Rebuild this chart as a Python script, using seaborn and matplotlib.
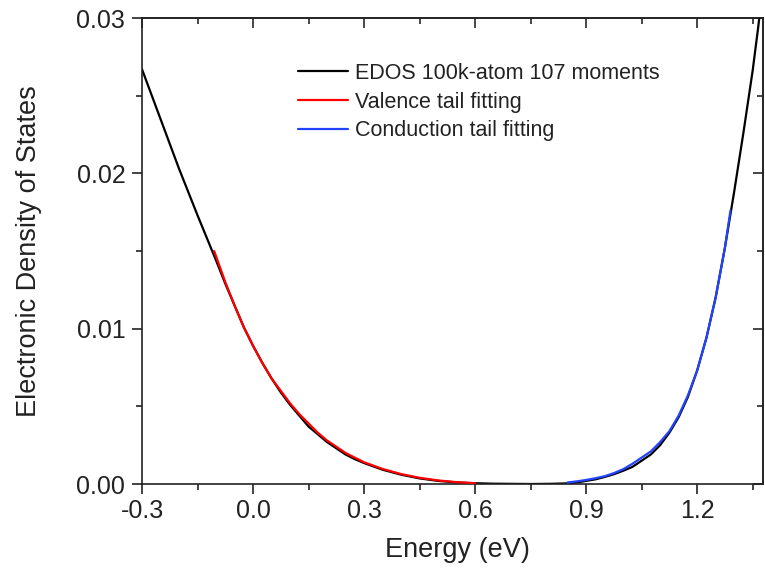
import matplotlib
matplotlib.use("Agg")
import matplotlib.pyplot as plt
import seaborn as sns
import pandas as pd
from matplotlib.ticker import MultipleLocator, FormatStrFormatter

# ---- data ----
edos_energy = [-0.30, -0.25, -0.20, -0.15, -0.10, -0.075, -0.05, -0.025, 0.00, 0.025,
               0.05, 0.075, 0.10, 0.125, 0.15, 0.175, 0.20, 0.225, 0.25, 0.275,
               0.30, 0.35, 0.40, 0.45, 0.50, 0.55, 0.60, 0.65, 0.70, 0.75,
               0.80, 0.85, 0.875, 0.90, 0.925, 0.95, 0.975, 1.00, 1.025, 1.05,
               1.075, 1.10, 1.125, 1.15, 1.175, 1.20, 1.225, 1.25, 1.275, 1.30,
               1.325, 1.35, 1.365, 1.38]
edos_value = [0.0267, 0.0235, 0.0203, 0.0173, 0.0144, 0.0129, 0.0115, 0.0101, 0.0089, 0.0078,
              0.0068, 0.0059, 0.0051, 0.0044, 0.0037, 0.0032, 0.0027, 0.0023, 0.0019, 0.0016,
              0.00135, 0.00092, 0.0006, 0.00036, 0.0002, 0.0001, 0.00005, 0.00002, 0.00001, 0.0,
              0.00001, 0.00004, 0.0001, 0.0002, 0.0003, 0.00045, 0.00063, 0.00085, 0.0011, 0.0015,
              0.0019, 0.0025, 0.0033, 0.0043, 0.0056, 0.0073, 0.0094, 0.0120, 0.0152, 0.0188,
              0.0226, 0.0266, 0.0294, 0.0325]

valence_energy = [-0.105, -0.075, -0.05, -0.025, 0.00, 0.025, 0.05, 0.075, 0.10, 0.125,
                  0.15, 0.175, 0.20, 0.25, 0.30, 0.35, 0.40, 0.45, 0.50, 0.55, 0.60]
valence_value = [0.0150, 0.0130, 0.0115, 0.0101, 0.0089, 0.0078, 0.0068, 0.0060, 0.0052, 0.0045,
                 0.0039, 0.0033, 0.0028, 0.0020, 0.0014, 0.00097, 0.00064, 0.0004, 0.00023, 0.00012,
                 0.00005]

conduction_energy = [0.85, 0.875, 0.90, 0.925, 0.95, 0.975, 1.00, 1.025, 1.05, 1.075,
                     1.10, 1.125, 1.15, 1.175, 1.20, 1.225, 1.25, 1.275, 1.29]
conduction_value = [0.0001, 0.00017, 0.00026, 0.00037, 0.0005, 0.0007, 0.00095, 0.0013, 0.0017, 0.0021,
                    0.0027, 0.0034, 0.0044, 0.0057, 0.0073, 0.0094, 0.0120, 0.0152, 0.0176]

labels = ["EDOS 100k-atom 107 moments", "Valence tail fitting", "Conduction tail fitting"]
colors = ["black", "#ff0000", "#2244ff"]

x_ticks = [-0.3, 0.0, 0.3, 0.6, 0.9, 1.2]
y_ticks = [0.00, 0.01, 0.02, 0.03]

# ---- style ----
sns.set_style("ticks")
plt.rcParams["font.family"] = ["Liberation Sans", "DejaVu Sans"]

fig = plt.figure(figsize=(7.65, 5.79), dpi=100)
W, H = 765, 579
L, R, B, T = 142, 763, 484, 18
ax = fig.add_axes([L / W, 1 - B / H, (R - L) / W, (B - T) / H])

df_edos = pd.DataFrame({"Energy": edos_energy, "DOS": edos_value})
df_val = pd.DataFrame({"Energy": valence_energy, "DOS": valence_value})
df_con = pd.DataFrame({"Energy": conduction_energy, "DOS": conduction_value})

sns.lineplot(data=df_edos, x="Energy", y="DOS", ax=ax, color=colors[0], lw=1.6,
             label=labels[0], sort=False, zorder=2)
sns.lineplot(data=df_val, x="Energy", y="DOS", ax=ax, color=colors[1], lw=1.6,
             label=labels[1], sort=False, zorder=3)
sns.lineplot(data=df_con, x="Energy", y="DOS", ax=ax, color=colors[2], lw=1.6,
             label=labels[2], sort=False, zorder=3)

ax.set_xlim(-0.3, 1.378)
ax.set_ylim(0.0, 0.03)
ax.set_xticks(x_ticks)
ax.set_yticks(y_ticks)
ax.xaxis.set_major_formatter(FormatStrFormatter("%.1f"))
ax.yaxis.set_major_formatter(FormatStrFormatter("%.2f"))
ax.xaxis.set_minor_locator(MultipleLocator(0.15))
ax.yaxis.set_minor_locator(MultipleLocator(0.005))

for s in ax.spines.values():
    s.set_linewidth(1.2)
    s.set_color("#222222")

ax.tick_params(axis="both", which="major", direction="out", length=7, width=1.2,
               labelsize=18, colors="#222222")
ax.tick_params(axis="x", which="major", pad=4)
ax.tick_params(axis="y", which="major", pad=5)
ax.tick_params(axis="both", which="minor", direction="out", length=4, width=1.2, colors="#222222")

# mirrored inward ticks on top and right
secx = ax.secondary_xaxis("top")
secx.set_xticks(x_ticks)
secx.xaxis.set_minor_locator(MultipleLocator(0.15))
secx.tick_params(which="major", direction="in", length=7, width=1.2, labeltop=False)
secx.tick_params(which="minor", direction="in", length=4, width=1.2)
secx.spines["top"].set_linewidth(1.2)
secy = ax.secondary_yaxis("right")
secy.set_yticks(y_ticks)
secy.yaxis.set_minor_locator(MultipleLocator(0.005))
secy.tick_params(which="major", direction="in", length=7, width=1.2, labelright=False)
secy.tick_params(which="minor", direction="in", length=4, width=1.2)
secy.spines["right"].set_linewidth(1.2)

ax.set_xlabel("Energy (eV)", fontsize=19.5, color="#222222")
ax.set_ylabel("Electronic Density of States", fontsize=19.5, color="#222222")
ax.xaxis.set_label_coords((457 - L) / (R - L), (B - 537) / (B - T))
ax.yaxis.set_label_coords((42 - L) / (R - L), 0.5)

leg = ax.legend(loc="upper left", bbox_to_anchor=((298 - L) / (R - L), (B - 63) / (B - T)),
                frameon=False, fontsize=15.5, handlelength=2.3, handletextpad=0.35,
                labelspacing=0.35, borderpad=0, borderaxespad=0)
for t in leg.get_texts():
    t.set_color("#222222")

fig.savefig("out.png", dpi=100)
